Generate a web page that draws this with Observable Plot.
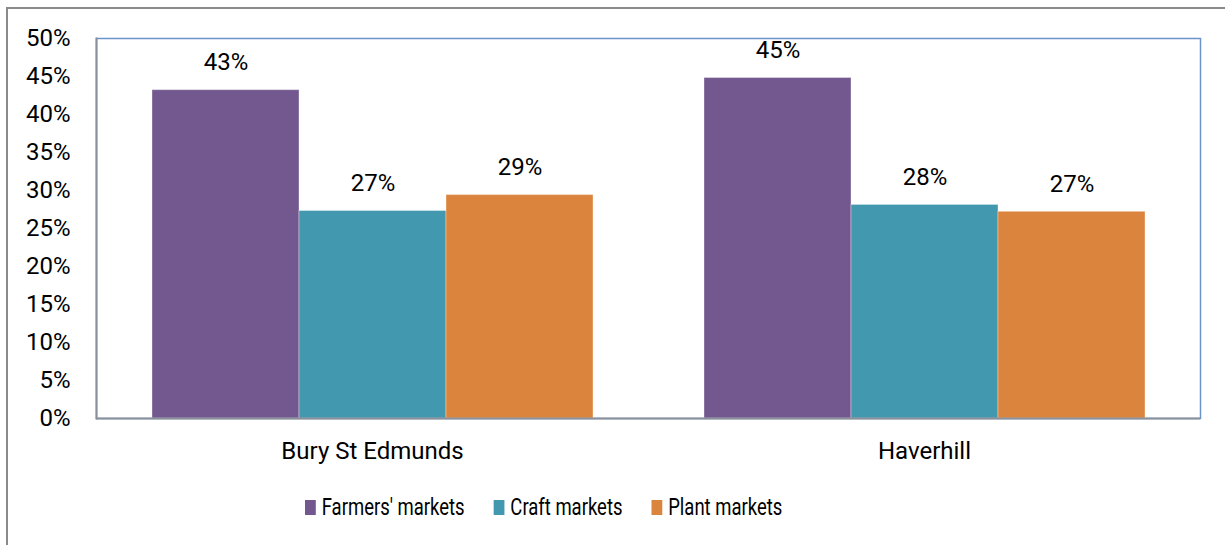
<!DOCTYPE html>
<html>
<head>
<meta charset="utf-8">
<script src="https://cdn.jsdelivr.net/npm/d3@7"></script>
<script src="https://cdn.jsdelivr.net/npm/@observablehq/plot@0.6"></script>
<style>
  html, body { margin: 0; padding: 0; background: #fff; overflow: hidden; }
  #wrap { position: relative; width: 1225px; height: 545px; overflow: hidden; font-family: Roboto, sans-serif; }
  #outer { position: absolute; left: 6px; top: 7px; width: 1400px; height: 700px; border: 2px solid #8a8a8a; box-sizing: border-box; }
  #chart { position: absolute; left: 0; top: 0; }
  #legend { position: absolute; left: 305px; top: 493px; display: flex; align-items: center; transform: scaleX(0.77); transform-origin: 0 50%; font-size: 24px; color: #000; white-space: nowrap; }
  .item { display: flex; align-items: center; }
  .sw { width: 14.3px; height: 15px; margin-right: 7.4px; }
  .gap { width: 37.7px; }
</style>
</head>
<body>
<div id="wrap">
  <div id="outer"></div>
  <div id="chart"></div>
  <div id="legend"></div>
</div>
<script>
const towns = ["Bury St Edmunds", "Haverhill"];
const series = ["Farmers' markets", "Craft markets", "Plant markets"];
const farmers = [43.2, 44.8];
const craft = [27.3, 28.1];
const plant = [29.4, 27.2];
const colors = ["#72588F", "#4298AF", "#DB843D"];
const yTicks = [0, 5, 10, 15, 20, 25, 30, 35, 40, 45, 50];

const values = [farmers, craft, plant];
const data = [];
towns.forEach((t, i) => series.forEach((s, j) => data.push({town: t, series: s, value: values[j][i]})));

const plot = Plot.plot({
  width: 1225,
  height: 470,
  marginLeft: 96,
  marginRight: 25,
  marginTop: 38,
  marginBottom: 52,
  style: {fontFamily: "Roboto, sans-serif", fontSize: "24px", color: "#000", background: "transparent"},
  fx: {domain: towns, padding: 0, axis: "bottom", tickSize: 0, tickPadding: 23, label: null},
  x: {domain: series, paddingInner: 0, paddingOuter: 0.372, axis: null},
  y: {domain: [0, 50], ticks: yTicks, tickFormat: d => d + "%", tickSize: 0, tickPadding: 26, label: null},
  color: {domain: series, range: colors},
  marks: [
    Plot.frame({stroke: "#6b93c9", strokeWidth: 1.5, facet: "super"}),
    Plot.barY(data, {fx: "town", x: "series", y: "value", fill: "series", stroke: "#ffffff", strokeOpacity: 0.35, strokeWidth: 1}),
    Plot.text(data, {fx: "town", x: "series", y: "value", text: d => Math.round(d.value) + "%", dy: -27.5, fill: "#000", fontSize: 24}),
    Plot.ruleY([0], {stroke: "#8a8f99", strokeWidth: 2}),
    Plot.frame({anchor: "left", stroke: "#8a8f99", strokeWidth: 2, facet: "super"})
  ]
});
document.getElementById("chart").appendChild(plot);

const legend = document.getElementById("legend");
series.forEach((s, i) => {
  if (i > 0) { const g = document.createElement("div"); g.className = "gap"; legend.appendChild(g); }
  const item = document.createElement("div");
  item.className = "item";
  const sw = document.createElement("div");
  sw.className = "sw";
  sw.style.background = colors[i];
  const lab = document.createElement("span");
  lab.textContent = s;
  item.appendChild(sw);
  item.appendChild(lab);
  legend.appendChild(item);
});
</script>
</body>
</html>
